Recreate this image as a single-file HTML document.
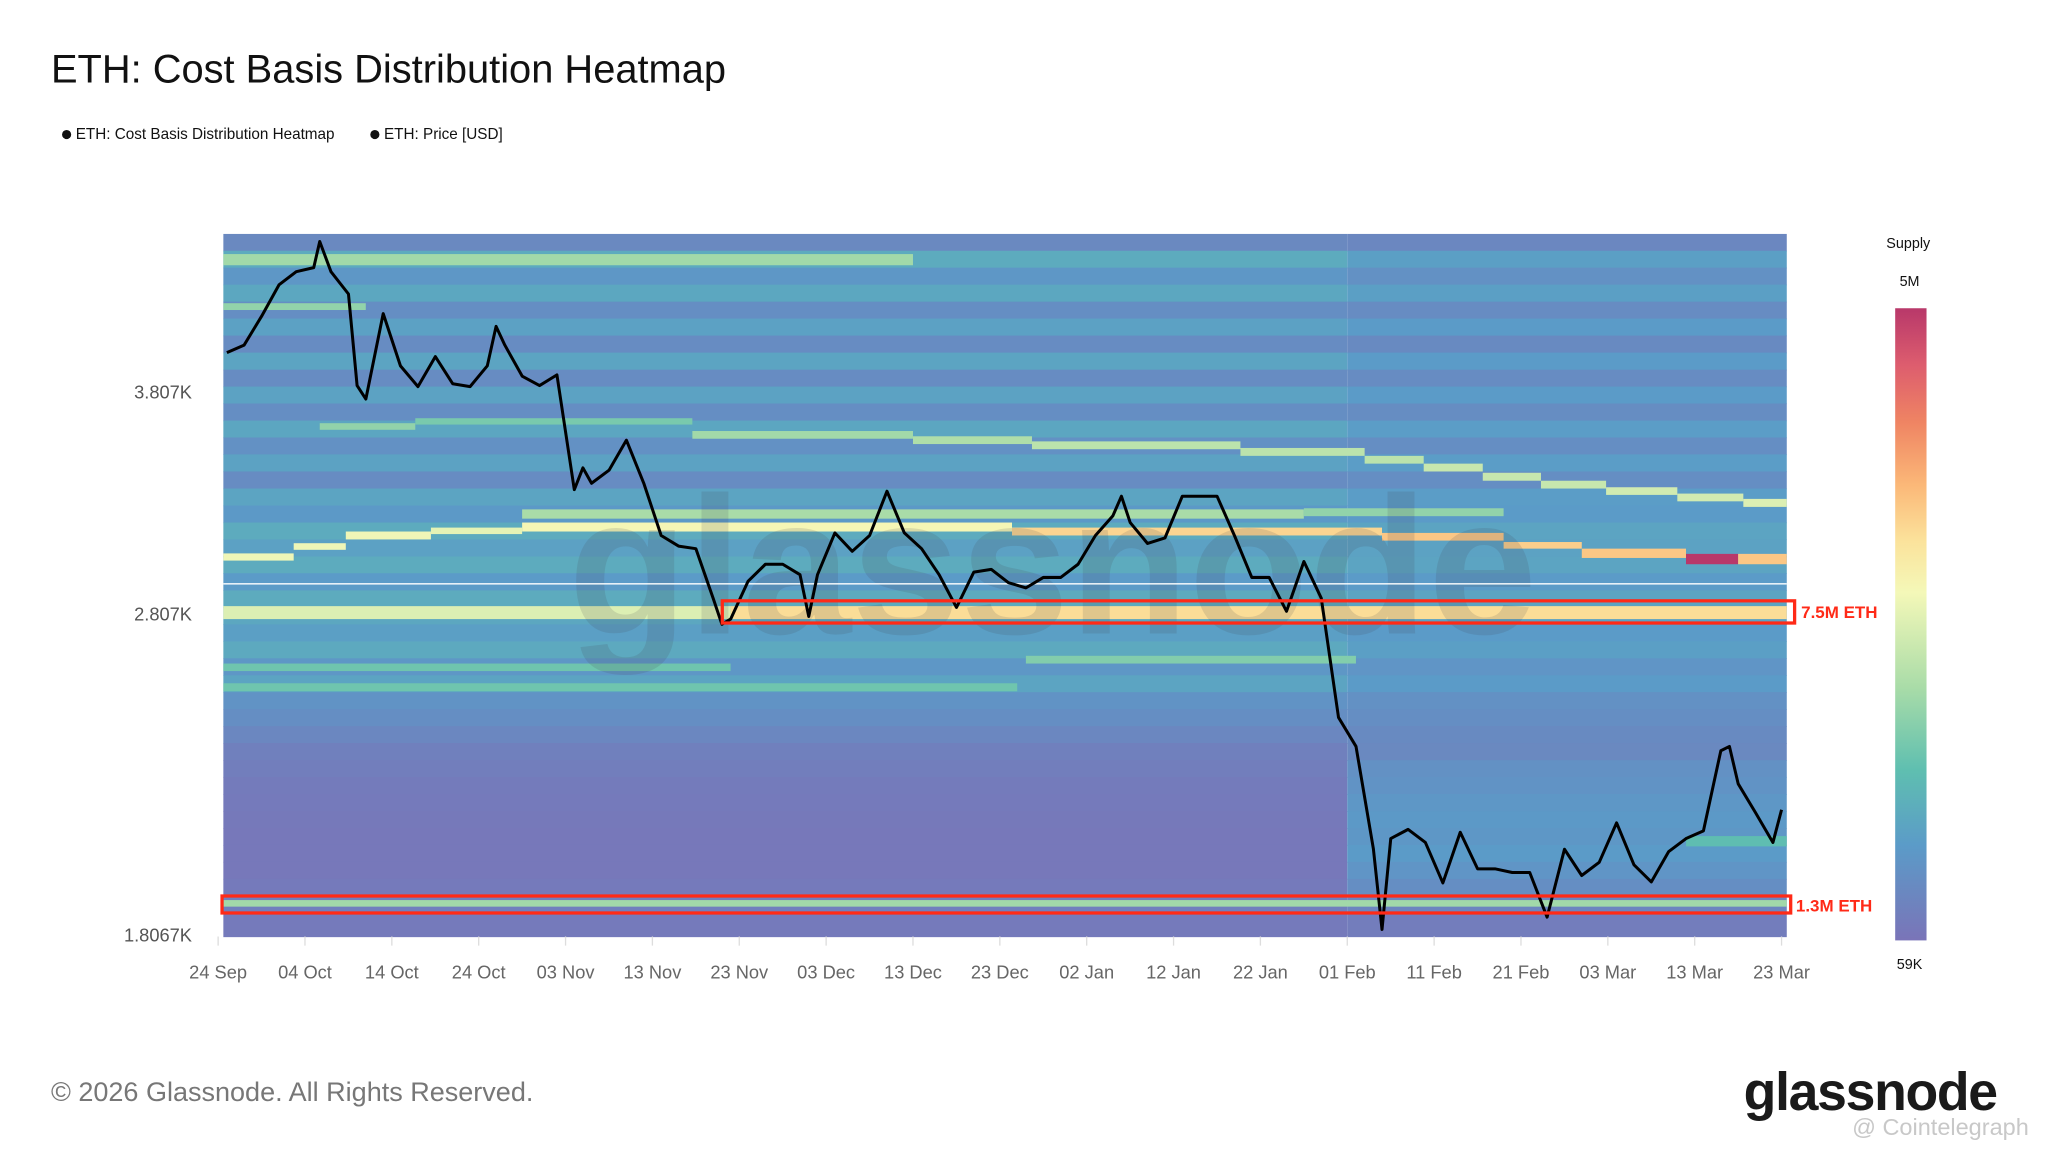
<!DOCTYPE html>
<html><head><meta charset="utf-8"><style>
html,body{margin:0;padding:0;background:#fff;}
svg{display:block;font-family:"Liberation Sans",sans-serif;}
</style></head><body>
<svg id="chart" width="2048" height="1152" viewBox="0 0 1568 882" xmlns="http://www.w3.org/2000/svg">
<text x="39" y="63" font-size="30.5" fill="#111">ETH: Cost Basis Distribution Heatmap</text>
<g font-size="11.7" fill="#111">
<circle cx="51" cy="103" r="3.5" fill="#111"/>
<text x="58" y="106.5">ETH: Cost Basis Distribution Heatmap</text>
<circle cx="287" cy="103" r="3.5" fill="#111"/>
<text x="294" y="106.5">ETH: Price [USD]</text>
</g>
<g id="heat"></g>
<text x="435" y="485" font-size="150" font-weight="bold" fill="rgba(70,70,80,0.15)">glassnode</text>
<line x1="171" y1="447" x2="1368" y2="447" stroke="rgba(255,255,255,0.85)" stroke-width="1.2"/>
<path id="price" fill="none" stroke="#000" stroke-width="2.3" stroke-linejoin="round"/>
<g>
<rect x="553" y="460" width="821" height="17" fill="none" stroke="#ff2a17" stroke-width="2.5"/>
<text x="1379" y="473" font-size="13" font-weight="bold" fill="#ff2a17">7.5M ETH</text>
<rect x="170" y="686" width="1201" height="13" fill="none" stroke="#ff2a17" stroke-width="2.5"/>
<text x="1375" y="698" font-size="13" font-weight="bold" fill="#ff2a17">1.3M ETH</text>
</g>
<g id="yaxis" font-size="14" fill="#555" text-anchor="end"></g>
<g id="xaxis" font-size="14" fill="#666" text-anchor="middle"></g>
<defs><linearGradient id="cb" x1="0" y1="1" x2="0" y2="0">
<stop offset="0" stop-color="#7a74b8"/><stop offset="0.15" stop-color="#5b9bc8"/><stop offset="0.27" stop-color="#5fbfb0"/><stop offset="0.4" stop-color="#a9dca8"/><stop offset="0.55" stop-color="#f4f8b8"/><stop offset="0.63" stop-color="#fbe39c"/><stop offset="0.72" stop-color="#fbb878"/><stop offset="0.82" stop-color="#ef8463"/><stop offset="0.91" stop-color="#dd5d6e"/><stop offset="1" stop-color="#b8386a"/>
</linearGradient></defs>
<g>
<text x="1461" y="190" font-size="11" fill="#111" text-anchor="middle">Supply</text>
<text x="1462" y="219" font-size="11" fill="#111" text-anchor="middle">5M</text>
<rect x="1451" y="236" width="24" height="484" fill="url(#cb)"/>
<text x="1462" y="742" font-size="11" fill="#111" text-anchor="middle">59K</text>
</g>
<text x="39" y="843" font-size="20.7" fill="#777">© 2026 Glassnode. All Rights Reserved.</text>
<text x="1335" y="850" font-size="41" font-weight="bold" fill="#1a1a1a" letter-spacing="-1">glassnode</text>
<text x="1418" y="869" font-size="18" fill="#c8c8c8">@ Cointelegraph</text>
</svg>
<script>
// ---- data ----
const xTickLabels=["24 Sep","04 Oct","14 Oct","24 Oct","03 Nov","13 Nov","23 Nov","03 Dec","13 Dec","23 Dec","02 Jan","12 Jan","22 Jan","01 Feb","11 Feb","21 Feb","03 Mar","13 Mar","23 Mar"];
const xTickDays=[0,10,20,30,40,50,60,70,80,90,100,110,120,130,140,150,160,170,180];
const yTickLabels=["3.807K","2.807K","1.8067K"];
const yTickValues=[3807,2807,1806.7];
const priceDays=[1,3,5,7,9,11,11.7,13,15,16,17,19,21,23,25,27,29,31,32,33,35,37,39,41,42,43,45,47,49,51,53,55,57,58,59,61,63,65,67,68,69,71,73,75,77,79,81,83,85,87,89,91,93,95,97,99,101,103,104,105,107,109,111,113,115,117,119,121,123,125,127,129,131,133,134,135,137,139,141,143,145,147,149,151,153,155,157,159,161,163,165,167,169,171,173,174,175,177,179,180];
const priceValues=[4018,4060,4224,4410,4490,4515,4680,4490,4355,3840,3770,4239,3946,3835,3996,3850,3835,3946,4165,4060,3890,3840,3897,3329,3430,3358,3419,3563,3358,3126,3081,3070,2868,2767,2787,2935,3005,3005,2962,2797,2962,3137,3059,3126,3322,3137,3070,2962,2832,2973,2984,2930,2909,2951,2951,3005,3126,3211,3299,3182,3092,3115,3299,3299,3299,3126,2951,2951,2817,3016,2868,2435,2340,2033,1820,2062,2088,2051,1940,2080,1978,1978,1968,1968,1851,2032,1960,1996,2107,1989,1943,2025,2062,2084,2326,2340,2223,2137,2051,2145];
// background rows: price-level tops
const bgRowTop=[4729,4621,4515,4411,4309,4210,4113,4018,3925,3835,3747,3660,3576,3494,3413,3334,3257,3182,3109,3037,2968,2899,2832,2767,2703,2641,2580,2521,2463,2406,2351,2296,2244,2192,2141,2092,2044,1997,1951,1906,1862];
const bgSupplyEarly=[90e3,260e3,150e3,240e3,110e3,200e3,100e3,220e3,100e3,210e3,110e3,230e3,120e3,210e3,100e3,220e3,160e3,260e3,200e3,260e3,170e3,260e3,240e3,190e3,250e3,150e3,220e3,130e3,110e3,85e3,70e3,66e3,63e3,62e3,61e3,60e3,60e3,60e3,62e3,68e3,62e3];
const bgSupplyLate=[85e3,190e3,120e3,190e3,100e3,170e3,95e3,170e3,100e3,170e3,105e3,180e3,110e3,180e3,110e3,180e3,170e3,220e3,210e3,220e3,170e3,220e3,210e3,170e3,190e3,140e3,170e3,120e3,110e3,95e3,90e3,120e3,130e3,150e3,160e3,150e3,170e3,140e3,110e3,80e3,65e3];
const splitDay=130;
// highlighted cost-basis bands
const bandLo=[4530,4260,3020,3065,3109,3132,3143,3126,3104,3070,3031,3005,3005,3199,3210,2787,2787,1878,3614,3640,3570,3544,3519,3487,3450,3413,3370,3334,3305,3276,3251,2622,2524,2595,2040];
const bandHi=[4600,4300,3050,3093,3143,3160,3182,3160,3137,3098,3070,3048,3048,3240,3245,2837,2837,1895,3647,3672,3608,3582,3557,3525,3487,3450,3407,3370,3340,3311,3287,2650,2552,2622,2069];
const bandStart=[0.6,0.6,0.6,8.7,14.7,24.5,35,91.4,134,148,157,169,175,35,125,0.6,59,0.6,11.7,22.7,54.6,80,93.7,117.7,132,138.8,145.6,152.3,159.8,168,175.6,93,0.6,0.6,169];
const bandEnd=[80,17,8.7,14.7,24.5,35,91.4,134,148,157,169,175,180.6,125,148,59,180.6,180.6,22.7,54.6,80,93.7,117.7,132,138.8,145.6,152.3,159.8,168,175.6,180.6,131,92,59,180.6];
const bandSupply=[0.8e6,0.7e6,1.5e6,1.5e6,1.5e6,1.4e6,1.6e6,2.2e6,2.4e6,2.3e6,2.4e6,5.0e6,2.4e6,0.85e6,0.7e6,1.3e6,2.1e6,0.8e6,0.7e6,0.55e6,0.8e6,0.9e6,1.0e6,1.0e6,1.0e6,1.1e6,1.1e6,1.1e6,1.2e6,1.2e6,1.3e6,0.6e6,0.5e6,0.5e6,0.4e6];
// ---- scales ----
const X0=167,PX=6.65,PL=171,PR=1368;
const xS=d=>X0+d*PX;
const yS=p=>470-(Math.log(p)-Math.log(2807))*557.7;
const stops=[[0,[122,116,184]],[0.15,[91,155,200]],[0.27,[95,191,176]],[0.4,[169,220,168]],[0.55,[244,248,184]],[0.63,[251,227,156]],[0.72,[251,184,120]],[0.82,[239,132,99]],[0.91,[221,93,110]],[1,[184,56,106]]];
function col(v){let t=Math.sqrt(Math.max(0,(v-59000)/(5e6-59000)));t=Math.max(0,Math.min(1,t));
for(let i=1;i<stops.length;i++){if(t<=stops[i][0]){const a=stops[i-1],b=stops[i],f=(t-a[0])/(b[0]-a[0]);
return 'rgb('+a[1].map((c,k)=>Math.round(c+(b[1][k]-c)*f)).join(',')+')';}}return 'rgb(184,56,106)';}
const NS='http://www.w3.org/2000/svg';
const heat=document.getElementById('heat');
function rect(x1,x2,y1,y2,fill){const r=document.createElementNS(NS,'rect');
r.setAttribute('x',x1);r.setAttribute('y',y1);r.setAttribute('width',Math.max(0,x2-x1));r.setAttribute('height',Math.max(0,y2-y1));r.setAttribute('fill',fill);


heat.appendChild(r);}
for(let i=0;i<bgRowTop.length;i++){
 const y1=yS(bgRowTop[i]);const y2=i+1<bgRowTop.length?yS(bgRowTop[i+1]):717;
 rect(PL,xS(splitDay),y1,y2+0.5,col(bgSupplyEarly[i]));
 rect(xS(splitDay),PR,y1,y2+0.5,col(bgSupplyLate[i]));
}
for(let i=0;i<bandLo.length;i++){
 rect(Math.max(PL,xS(bandStart[i])),Math.min(PR,xS(bandEnd[i])),yS(bandHi[i]),yS(bandLo[i]),col(bandSupply[i]));
}
// price line
let d='';priceDays.forEach((dd,i)=>{d+=(i?'L':'M')+xS(dd).toFixed(1)+' '+yS(priceValues[i]).toFixed(1);});
document.getElementById('price').setAttribute('d',d);
// axes
const ya=document.getElementById('yaxis');
yTickValues.forEach((v,i)=>{const t=document.createElementNS(NS,'text');
t.setAttribute('x',147);t.setAttribute('y',yS(v)+5);t.textContent=yTickLabels[i];


ya.appendChild(t);});
const xa=document.getElementById('xaxis');
xTickDays.forEach((dd,i)=>{const x=xS(dd);
const l=document.createElementNS(NS,'line');l.setAttribute('x1',x);l.setAttribute('x2',x);l.setAttribute('y1',717);l.setAttribute('y2',724);l.setAttribute('stroke','#ddd');


xa.appendChild(l);
const t=document.createElementNS(NS,'text');t.setAttribute('x',x);t.setAttribute('y',749);t.textContent=xTickLabels[i];


xa.appendChild(t);});
</script>
</body></html>
